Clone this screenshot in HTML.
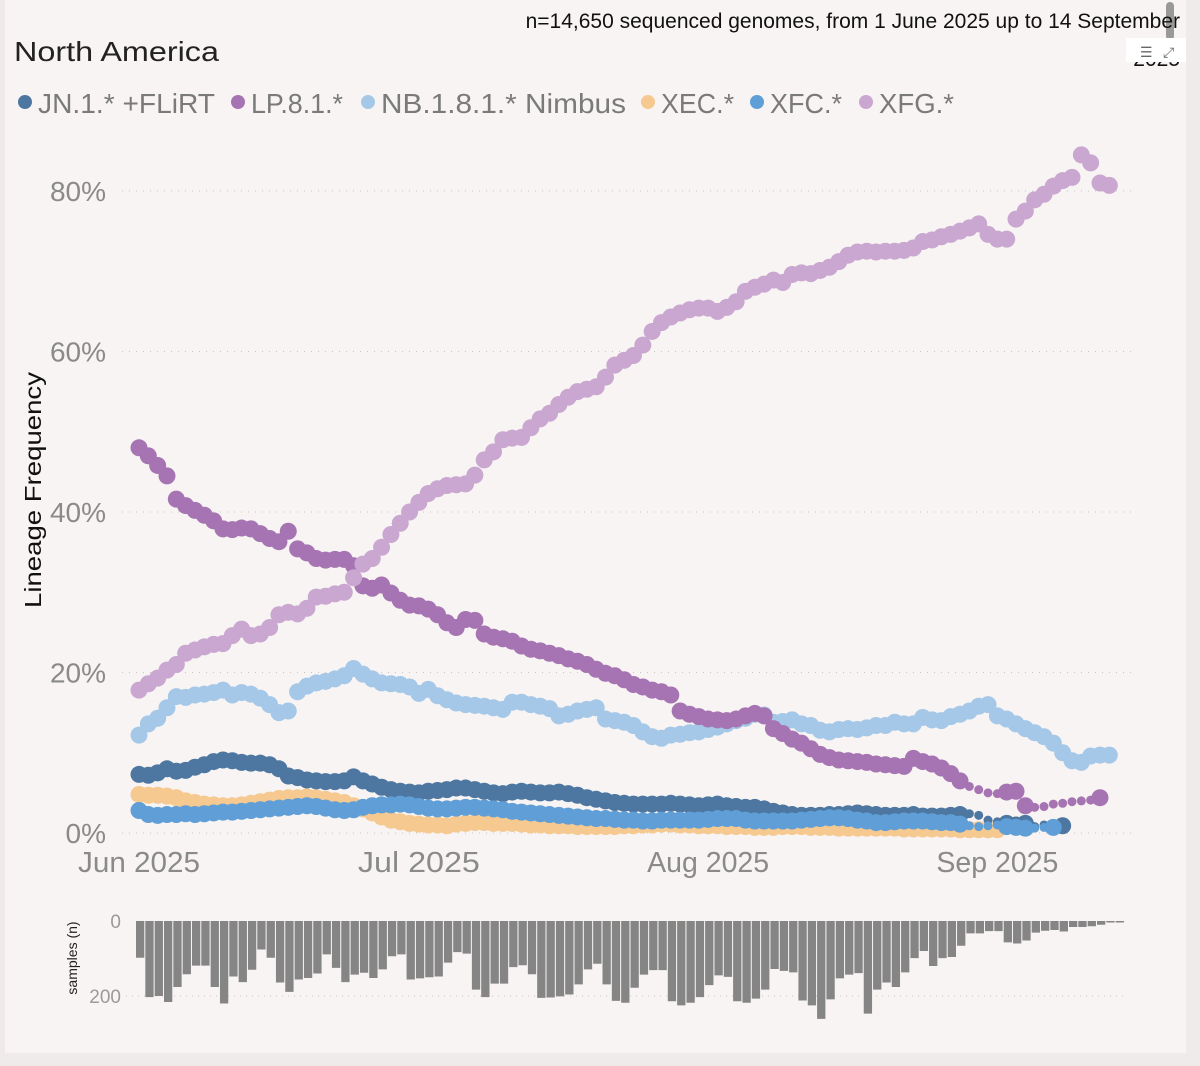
<!DOCTYPE html>
<html><head><meta charset="utf-8"><style>
html,body{margin:0;padding:0;background:#f8f4f3;}
svg{display:block;font-family:"Liberation Sans",sans-serif;}
</style></head><body>
<svg id="chart" width="1200" height="1066" viewBox="0 0 1200 1066">
<rect x="0" y="0" width="1200" height="1066" fill="#f8f4f3"/>
<rect x="0" y="0" width="5" height="1066" fill="#efeae9"/>
<rect x="1186" y="0" width="14" height="1066" fill="#efebea"/>
<rect x="0" y="1053" width="1200" height="13" fill="#efebea"/>
<rect x="1166" y="2" width="8" height="38" rx="4" fill="#999"/>
<text x="1180" y="28" text-anchor="end" font-size="21" fill="#111">n=14,650 sequenced genomes, from 1 June 2025 up to 14 September</text>
<text x="1180" y="66" text-anchor="end" font-size="21" fill="#111">2025</text>
<rect x="1126" y="38" width="60" height="24" fill="#fff"/>
<text x="1140" y="57" font-size="14" fill="#666">☰</text>
<text x="1163" y="57" font-size="14" fill="#666">⤢</text>
<text x="14" y="61" font-size="28" fill="#222" textLength="205" lengthAdjust="spacingAndGlyphs">North America</text>
<g id="legend"></g>
<g id="grid"></g>
<g id="yticks"></g>
<text transform="translate(41,490) rotate(-90)" text-anchor="middle" font-size="23" fill="#111" textLength="236" lengthAdjust="spacingAndGlyphs">Lineage Frequency</text>
<g id="xticks"></g>
<g id="series"></g>
<g id="bars"></g>
<text transform="translate(77,958) rotate(-90)" text-anchor="middle" font-size="14" fill="#222">samples (n)</text>
</svg>
<script>
const seriesNames=["XEC.*","JN.1.* +FLiRT","XFC.*","NB.1.8.1.* Nimbus","LP.8.1.*","XFG.*"];
const legendOrder=["JN.1.* +FLiRT","LP.8.1.*","NB.1.8.1.* Nimbus","XEC.*","XFC.*","XFG.*"];
const yTicks=[0,20,40,60,80];
const yTickLabels=["0%","20%","40%","60%","80%"];
const xTickDays=[0,30,61,92];
const xTickLabels=["Jun 2025","Jul 2025","Aug 2025","Sep 2025"];
const barTicks=[0,200];
const XEC=[4.8,4.7,4.7,4.6,4.4,4.0,3.8,3.6,3.5,3.4,3.4,3.5,3.7,3.9,4.1,4.3,4.4,4.4,4.5,4.4,4.2,4.0,3.8,3.4,3.0,2.5,2.0,1.6,1.4,1.2,1.1,1.0,1.0,0.9,1.1,1.2,1.3,1.3,1.2,1.2,1.2,1.1,1.0,1.0,0.9,0.9,0.9,0.8,0.8,0.8,0.8,0.8,0.9,0.9,1.0,1.0,1.1,1.1,1.0,1.0,0.9,0.9,0.9,0.8,0.8,0.8,0.7,0.7,0.7,0.8,0.8,0.8,0.7,0.7,0.7,0.6,0.6,0.6,0.6,0.6,0.6,0.6,0.5,0.5,0.5,0.5,0.5,0.5,0.4,0.4,0.4,0.4,0.4];
const JN=[7.3,7.2,7.5,8.0,7.7,7.8,8.2,8.5,8.9,9.1,9.0,8.8,8.7,8.7,8.5,8.0,7.1,6.9,6.6,6.5,6.4,6.4,6.5,7.0,6.5,6.1,5.7,5.4,5.2,5.1,5.0,5.2,5.3,5.4,5.6,5.6,5.4,5.2,5.0,4.9,5.1,5.2,5.1,5.0,5.0,5.1,4.9,4.7,4.4,4.2,4.0,3.8,3.7,3.6,3.6,3.6,3.6,3.7,3.6,3.5,3.4,3.5,3.6,3.4,3.3,3.2,3.2,3.0,2.7,2.5,2.3,2.2,2.2,2.2,2.3,2.3,2.4,2.5,2.4,2.3,2.2,2.2,2.2,2.3,2.1,2.1,2.1,2.2,2.3,2.4,2.2,1.6,1.4,1.2,1.0,1.2,0.8,1.0,1.0,0.9];
const XFC=[2.8,2.3,2.2,2.3,2.3,2.4,2.3,2.4,2.5,2.6,2.6,2.7,2.8,2.9,3.0,3.1,3.2,3.3,3.4,3.3,3.1,2.9,2.8,2.9,3.2,3.4,3.5,3.5,3.6,3.5,3.3,3.1,3.0,3.0,3.1,3.2,3.2,3.1,3.0,2.9,2.7,2.6,2.5,2.4,2.3,2.2,2.1,2.0,1.9,1.8,1.8,1.7,1.6,1.6,1.5,1.5,1.6,1.6,1.6,1.6,1.6,1.7,1.8,1.8,1.8,1.6,1.5,1.5,1.5,1.5,1.5,1.6,1.7,1.8,1.9,1.9,1.8,1.6,1.5,1.3,1.3,1.4,1.5,1.5,1.5,1.4,1.3,1.3,1.1,0.9,0.8,0.9,1.0,0.8,0.7,0.6,0.6,0.7,0.7];
const NB=[12.2,13.6,14.3,15.6,17.0,16.9,17.2,17.3,17.5,17.8,17.2,17.5,17.3,16.8,16.0,15.0,15.2,17.6,18.3,18.7,18.9,19.2,19.6,20.5,19.8,19.2,18.7,18.6,18.5,18.2,17.4,17.9,17.1,16.6,16.2,16.0,15.9,15.8,15.6,15.4,16.3,16.3,16.0,15.8,15.5,14.6,14.8,15.2,15.4,15.6,14.2,14.0,13.8,13.4,12.6,12.0,11.8,12.2,12.3,12.5,12.6,12.9,13.2,13.6,14.0,14.3,14.8,14.7,13.8,13.9,14.1,13.6,13.4,12.8,12.6,12.9,13.0,12.9,13.1,13.4,13.4,13.8,13.6,13.6,14.4,14.1,14.0,14.5,14.8,15.2,15.8,16.0,14.6,14.2,13.6,13.0,12.5,12.0,11.2,10.0,9.0,8.8,9.6,9.7,9.7];
const LP=[48.0,47.0,45.8,44.5,41.6,40.8,40.2,39.6,38.9,37.9,37.8,38.0,37.9,37.3,36.7,36.3,37.6,35.4,34.9,34.2,34.0,34.1,34.1,33.3,30.8,30.5,30.9,29.9,29.0,28.4,28.3,27.9,27.2,26.2,25.6,26.6,26.5,24.8,24.4,24.2,23.9,23.3,22.9,22.7,22.4,22.1,21.7,21.4,21.0,20.4,19.9,19.6,19.1,18.5,18.2,17.8,17.6,17.2,15.2,14.8,14.5,14.2,14.1,14.0,14.2,14.6,14.9,14.6,13.0,12.4,11.7,11.2,10.5,9.8,9.4,9.1,9.0,8.9,8.8,8.6,8.5,8.4,8.3,9.3,8.9,8.6,8.1,7.4,6.5,5.8,5.4,5.0,4.9,5.1,5.2,3.4,3.2,3.3,3.6,3.7,3.9,4.0,4.1,4.4];
const XFG=[17.8,18.6,19.3,20.3,21.0,22.4,22.8,23.2,23.5,23.6,24.6,25.4,24.6,24.8,25.6,27.2,27.5,27.3,28.0,29.4,29.5,29.8,30.0,31.8,33.5,34.2,35.6,37.2,38.6,40.0,41.2,42.3,42.9,43.3,43.4,43.5,44.6,46.5,47.5,49.0,49.2,49.3,50.5,51.6,52.3,53.4,54.3,55.0,55.3,55.6,56.8,58.3,58.9,59.5,60.8,62.5,63.6,64.3,64.8,65.2,65.4,65.4,65.0,65.5,66.2,67.5,68.0,68.4,68.9,68.6,69.6,69.8,69.7,70.1,70.5,71.2,72.0,72.4,72.5,72.4,72.5,72.5,72.6,72.9,73.7,73.9,74.3,74.6,75.0,75.4,75.9,74.6,74.0,74.0,76.5,77.5,78.9,79.6,80.6,81.3,81.7,84.5,83.5,81.0,80.7];
const samples=[98,203,200,216,176,142,119,119,176,220,148,163,130,76,98,164,189,156,152,140,89,125,163,143,138,152,129,94,89,156,153,150,148,111,83,87,183,203,167,167,123,118,142,205,204,201,196,169,129,114,169,213,218,178,143,131,131,214,225,218,203,171,145,149,214,218,207,183,128,133,137,212,225,261,209,153,143,139,247,183,164,176,137,99,80,120,99,96,66,33,33,27,27,57,60,52,31,26,24,28,16,16,14,10,4,4];
const seriesData={"XEC.*":XEC,"JN.1.* +FLiRT":JN,"XFC.*":XFC,"NB.1.8.1.* Nimbus":NB,"LP.8.1.*":LP,"XFG.*":XFG};
const colors={"JN.1.* +FLiRT":"#4d77a0","LP.8.1.*":"#a674b2","NB.1.8.1.* Nimbus":"#a5c8e8","XEC.*":"#f5c98f","XFC.*":"#5f9ed6","XFG.*":"#c9a7d0"};
const smallSeries={"JN.1.* +FLiRT":1,"XFC.*":1,"LP.8.1.*":1};
const NS="http://www.w3.org/2000/svg";
const X=d=>139+d*9.33;
const Y=v=>833-v*8.025;
const BY=n=>921+n*0.375;
function mk(tag,attrs,parent){const e=document.createElementNS(NS,tag);for(const k in attrs)e.setAttribute(k,attrs[k]);parent.appendChild(e);return e;}
const legendX=[25,238,368,648,757,866];
const legendW=[177,92,245,73,72,75];
const lg=document.getElementById('legend');
legendOrder.forEach((n,i)=>{
  const c=mk('circle',{cx:legendX[i],cy:102,r:7,fill:colors[n]},lg);
  
  
  const t=mk('text',{x:legendX[i]+13,y:113,'font-size':28,fill:'#7a7a7a',textLength:legendW[i],lengthAdjust:'spacingAndGlyphs'},lg);
  t.textContent=n;
  
  
});
const gg=document.getElementById('grid'),yt=document.getElementById('yticks');
yTicks.forEach((v,i)=>{
  const l=mk('line',{x1:122,x2:1132,y1:Y(v),y2:Y(v),stroke:'#c8c4c4','stroke-width':1,'stroke-dasharray':'1 6'},gg);
  
  
  const t=mk('text',{x:106,y:Y(v)+10,'text-anchor':'end','font-size':28,fill:'#8a8a8a'},yt);
  t.textContent=yTickLabels[i];
  
  
});
const xt=document.getElementById('xticks');
xTickDays.forEach((d,i)=>{
  const t=mk('text',{x:X(d),y:872,'text-anchor':'middle','font-size':29,fill:'#8a8a8a',textLength:122,lengthAdjust:'spacingAndGlyphs'},xt);
  t.textContent=xTickLabels[i];
  
  
});
const sg=document.getElementById('series');
seriesNames.forEach(n=>{
  const g=mk('g',{fill:colors[n]},sg);
  
  
  const arr=seriesData[n];
  arr.forEach((v,d)=>{
    const s=samples[d]||4;
    let r=8.5;
    if(smallSeries[n] && s<35 && d<arr.length-1) r=4.5;
    const c=mk('circle',{cx:X(d),cy:Y(v),r:r},g);
    
    
  });
});
const bg=document.getElementById('bars');
barTicks.forEach(v=>{
  const t=mk('text',{x:121,y:BY(v)+7,'text-anchor':'end','font-size':19,fill:'#9a9a9a'},bg);
  t.textContent=String(v);
  
  
});
const gl=mk('line',{x1:126,x2:1125,y1:BY(200),y2:BY(200),stroke:'#c8c4c4','stroke-dasharray':'1 5'},bg);


samples.forEach((n,d)=>{
  const r=mk('rect',{x:X(d)-3,y:BY(0),width:8.3,height:Math.max(1,BY(n)-BY(0)),fill:'#858585'},bg);
  
  
});
</script>
</body></html>
